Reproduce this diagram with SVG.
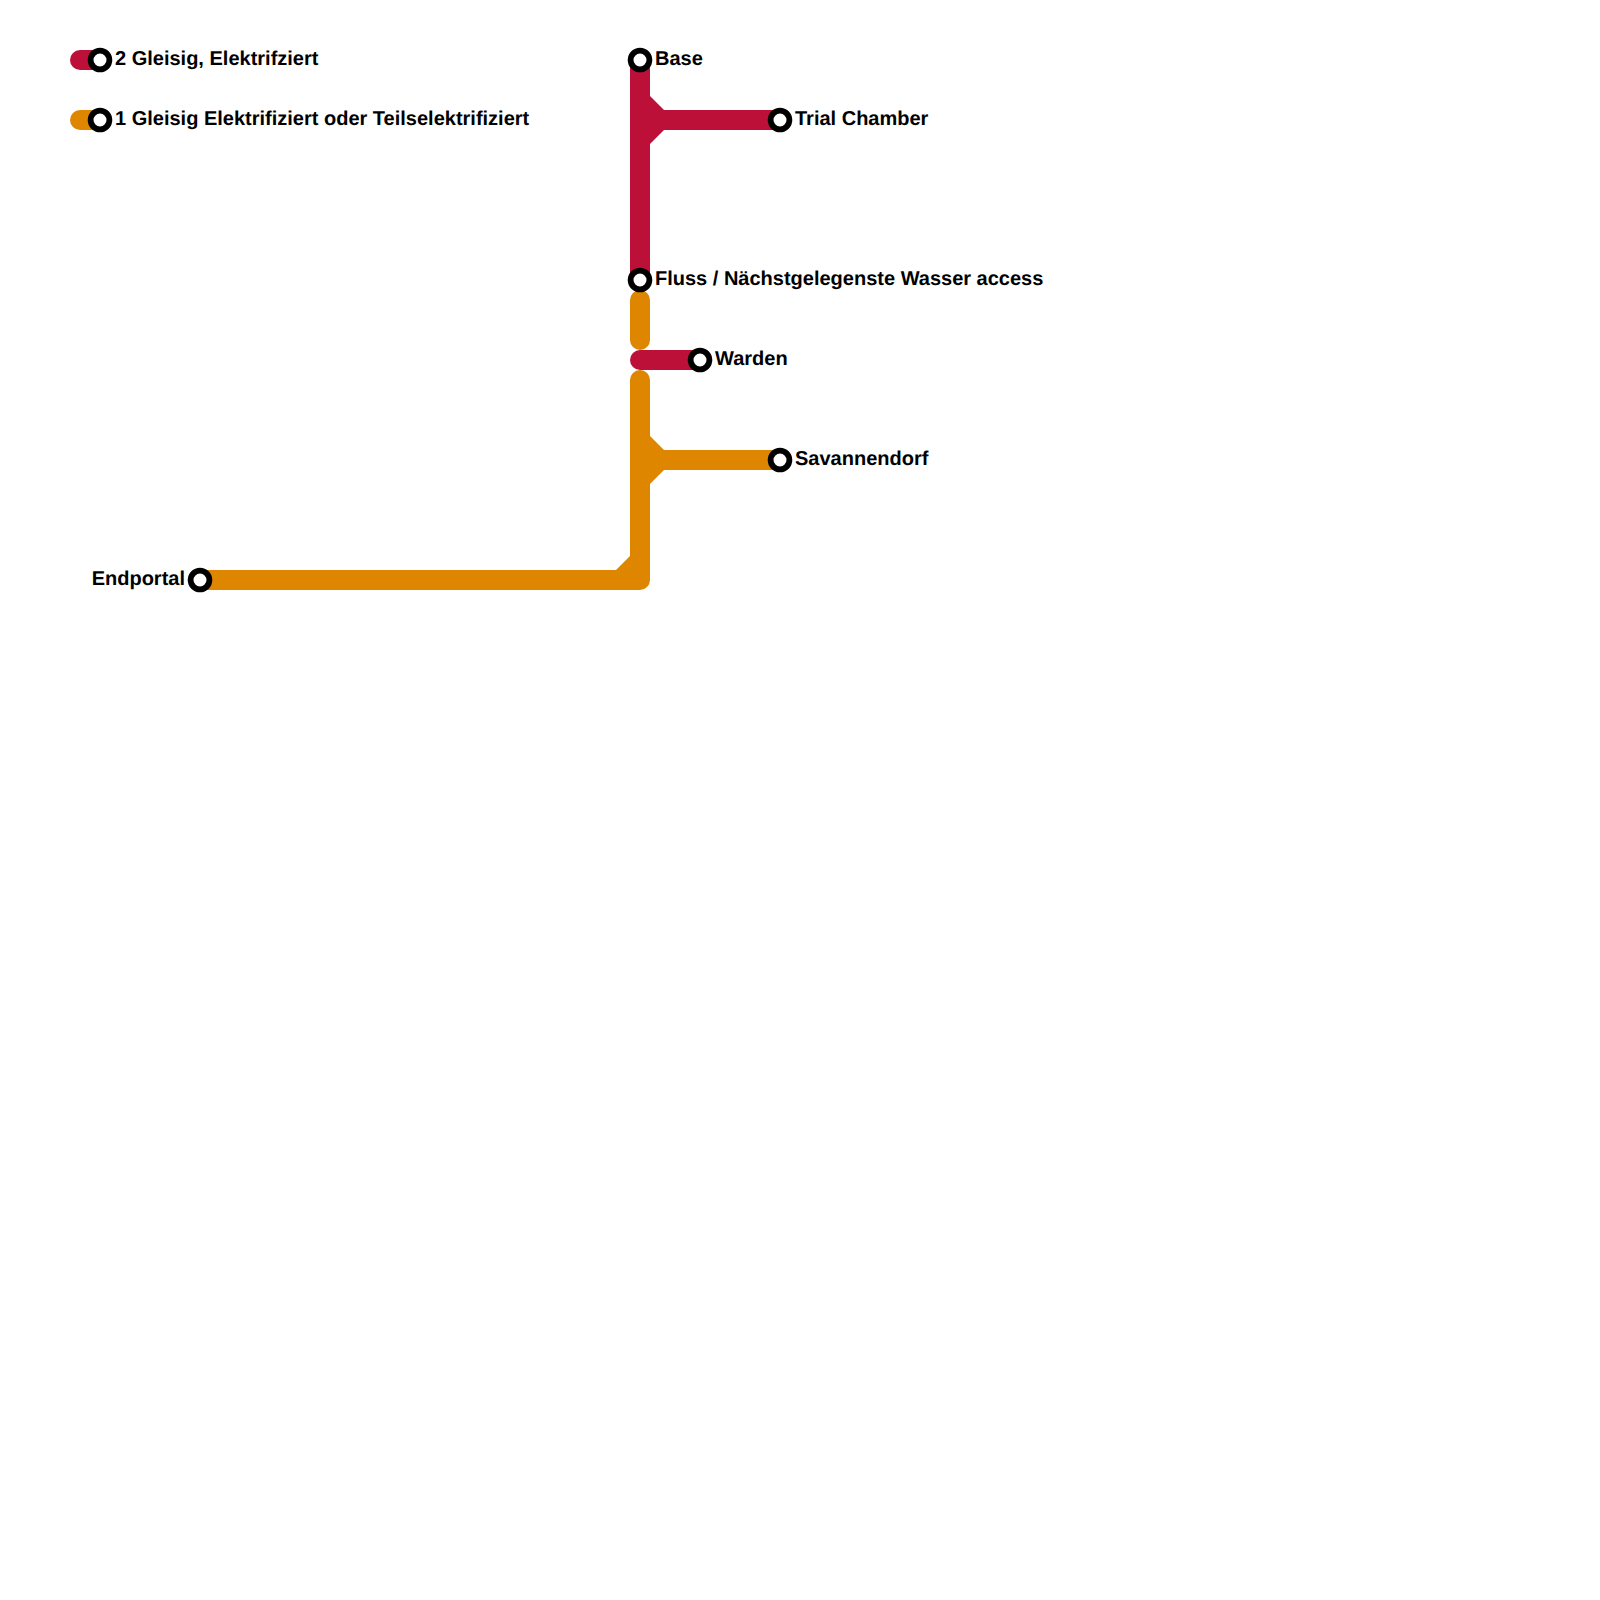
<svg xmlns="http://www.w3.org/2000/svg" width="1600" height="1600" viewBox="0 0 1600 1600">
<style>
.l{fill:none;stroke-width:20;stroke-linecap:round;stroke-linejoin:round}
.b{fill:none;stroke-width:20;stroke-linecap:butt}
.r{stroke:#bd1038}.o{stroke:#df8600}
.fr{fill:#bd1038}.fo{fill:#df8600}
.s{fill:#fff;stroke:#000;stroke-width:5.8}
text{font-family:"Liberation Sans",Arial,sans-serif;font-weight:700;font-size:20px;fill:#000;text-rendering:geometricPrecision}
</style>
<rect width="1600" height="1600" fill="#fff"/>
<g id="connectors">
<path class="l r" d="M80 60H100"/>
<path class="l o" d="M80 120H100"/>
<path class="b r" d="M640 60V280"/>
<path class="b r" d="M640 120H780"/>
<polygon class="fr" points="650,96 664,110 664,130 650,144 640,144 640,96"/>
<path class="l o" d="M640 300V340"/>
<path class="l r" d="M640 360H700"/>
<path class="l o" d="M200 580H640V380"/>
<path class="b o" d="M640 460H780"/>
<polygon class="fo" points="650,436 664,450 664,470 650,484 640,484 640,436"/>
<polygon class="fo" points="630,556 616,570 630,570"/>
</g>
<g id="legend-2"><circle class="s" cx="100" cy="60" r="9.4"/><text x="115" y="65">2 Gleisig, Elektrifziert</text></g>
<g id="legend-1"><circle class="s" cx="100" cy="120" r="9.4"/><text x="115" y="125">1 Gleisig Elektrifiziert oder Teilselektrifiziert</text></g>
<g id="base"><circle class="s" cx="640" cy="60" r="9.4"/><text x="655" y="65">Base</text></g>
<g id="trial"><circle class="s" cx="780" cy="120" r="9.4"/><text x="795" y="125">Trial Chamber</text></g>
<g id="fluss"><circle class="s" cx="640" cy="280" r="9.4"/><text x="655" y="285">Fluss / Nächstgelegenste Wasser access</text></g>
<g id="warden"><circle class="s" cx="700" cy="360" r="9.4"/><text x="715" y="365">Warden</text></g>
<g id="savannendorf"><circle class="s" cx="780" cy="460" r="9.4"/><text x="795" y="465">Savannendorf</text></g>
<g id="endportal"><circle class="s" cx="200" cy="580" r="9.4"/><text x="185" y="585" text-anchor="end">Endportal</text></g>
</svg>
